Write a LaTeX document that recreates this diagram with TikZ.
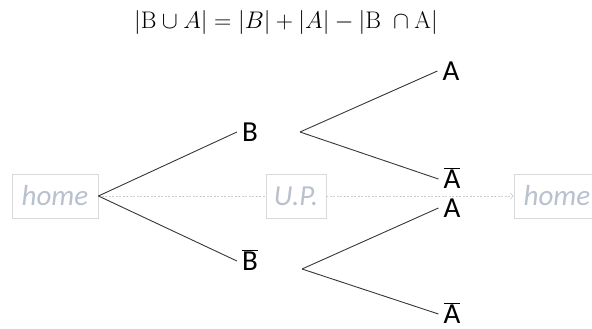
\documentclass[tikz,border=0pt]{standalone}
\usepackage{fix-cm}
\usepackage{fontspec}
\setsansfont{Carlito}
\usetikzlibrary{arrows.meta}
\definecolor{boxline}{RGB}{217,217,217}
\definecolor{hometext}{RGB}{185,192,206}
\definecolor{flowline}{RGB}{205,205,205}
\definecolor{branchline}{RGB}{55,55,55}
\begin{document}
\begin{tikzpicture}[x=1pt,y=-1pt,
  lbl/.style={font=\sffamily\fontsize{29}{32}\selectfont, text height=18.7pt, text depth=0pt, inner xsep=5pt, inner ysep=0pt},
  homebox/.style={draw=boxline, line width=0.8pt, text=hometext, font=\sffamily\itshape\fontsize{29}{32}\selectfont, minimum height=44pt, inner sep=0pt},
  branch/.style={draw=branchline, line width=0.9pt},
  flow/.style={draw=flowline, dash pattern=on 2pt off 1.5pt, line width=0.6pt}]
\useasboundingbox (0,0) rectangle (592,329);

\node (eq) at (286,23) {\fontsize{24}{28}\selectfont $|\mathrm{B}\cup A| = |B| + |A| - |\mathrm{B}\;\cap \mathrm{A}|$};

\node[homebox, minimum width=86pt] (home1) at (55,196) {home};
\node[homebox, minimum width=60pt] (up) at (296,196) {U.P.};
\node[homebox, minimum width=86pt] (home2) at (557,196) {home};

\draw[flow] (home1) -- (up);
\draw[flow, -{Straight Barb[length=3pt,width=6pt]}] (up) -- (home2);

\node[lbl] (B) at (250,132) {B};
\node[lbl] (Bb) at (250,261) {$\overline{\hbox{B}}$};
\node[lbl] (A1) at (451,71) {A};
\node[lbl] (Ab1) at (452,179) {$\overline{\hbox{A}}$};
\node[lbl] (A2) at (452,208) {A};
\node[lbl] (Ab2) at (452,314) {$\overline{\hbox{A}}$};

\coordinate (bs) at (300,132);
\coordinate (bbs) at (302,269);

\draw[branch] (home1.east) -- (B.west);
\draw[branch] (home1.east) -- (Bb.west);
\draw[branch] (bs) -- (A1.west);
\draw[branch] (bs) -- (Ab1.west);
\draw[branch] (bbs) -- (A2.west);
\draw[branch] (bbs) -- (Ab2.west);
\end{tikzpicture}
\end{document}
